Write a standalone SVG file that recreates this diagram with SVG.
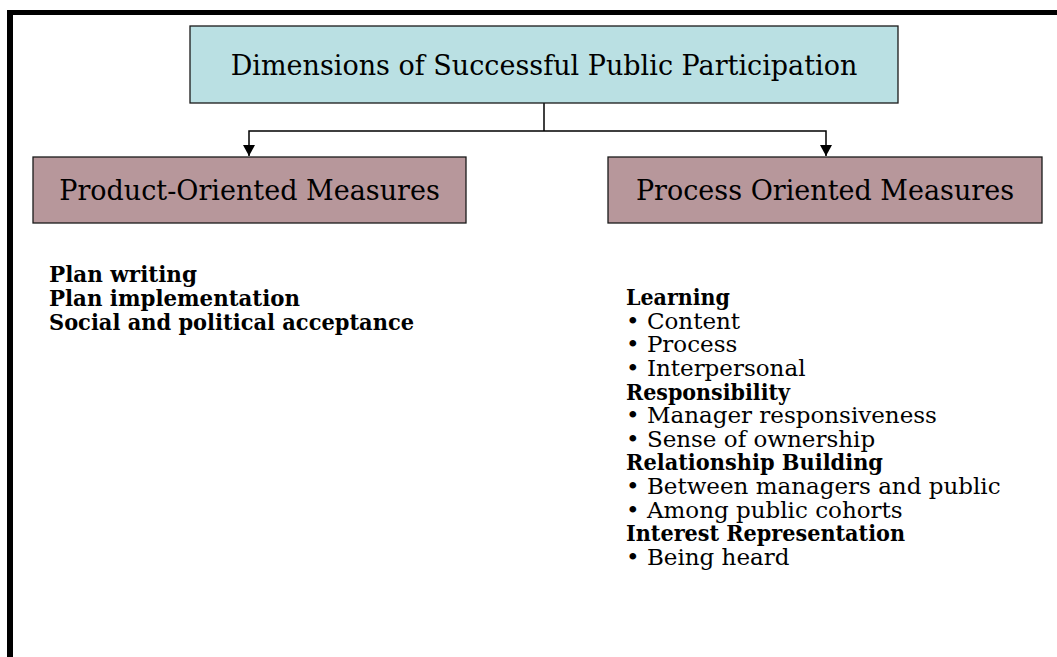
<svg xmlns="http://www.w3.org/2000/svg" width="1057" height="657" viewBox="0 0 1057 657">
<defs>
<style>
.t{font-family:"DejaVu Serif","Liberation Serif",serif;fill:#000}
.h{font-size:27px}
.l{font-size:23px}
.b{font-weight:bold}
.box{stroke:#1a1a1a;stroke-width:1.3}
.c{stroke:#000;stroke-width:1.5;fill:none}
</style>
<marker id="ah" markerWidth="12" markerHeight="12" refX="11" refY="6" orient="auto" markerUnits="userSpaceOnUse">
<path d="M0,0 L11,6 L0,12 Z" fill="#000"/>
</marker>
</defs>
<rect width="1057" height="657" fill="#fff"/>
<g id="frame">
<rect x="7" y="10" width="1050" height="5" fill="#000"/>
<rect x="7" y="10" width="6" height="647" fill="#000"/>
</g>
<g id="connectors">
<path class="c" d="M544,103 V131"/>
<path class="c" d="M544,131 H249 V156" marker-end="url(#ah)"/>
<path class="c" d="M544,131 H826 V156" marker-end="url(#ah)"/>
</g>
<g id="top">
<rect class="box" x="190" y="26" width="708" height="77" fill="#bae0e3"/>
<text class="t h" x="544" y="75" text-anchor="middle">Dimensions of Successful Public Participation</text>
</g>
<g id="product">
<rect class="box" x="33" y="157" width="433" height="66" fill="#b7979b"/>
<text class="t h" x="249.5" y="200" text-anchor="middle">Product-Oriented Measures</text>
</g>
<g id="process">
<rect class="box" x="608" y="157" width="434" height="66" fill="#b7979b"/>
<text class="t h" x="825" y="200" text-anchor="middle">Process Oriented Measures</text>
</g>
<g id="product-list">
<text class="t l b" x="49" y="282" textLength="148" lengthAdjust="spacingAndGlyphs">Plan writing</text>
<text class="t l b" x="49" y="306" textLength="251" lengthAdjust="spacingAndGlyphs">Plan implementation</text>
<text class="t l b" x="49" y="330" textLength="365" lengthAdjust="spacingAndGlyphs">Social and political acceptance</text>
</g>
<g id="process-list">
<text class="t l b" x="626" y="305" textLength="104" lengthAdjust="spacingAndGlyphs">Learning</text>
<text class="t l" x="626" y="329">• Content</text>
<text class="t l" x="626" y="352">• Process</text>
<text class="t l" x="626" y="376">• Interpersonal</text>
<text class="t l b" x="626" y="400" textLength="164" lengthAdjust="spacingAndGlyphs">Responsibility</text>
<text class="t l" x="626" y="423">• Manager responsiveness</text>
<text class="t l" x="626" y="447">• Sense of ownership</text>
<text class="t l b" x="626" y="470" textLength="257" lengthAdjust="spacingAndGlyphs">Relationship Building</text>
<text class="t l" x="626" y="494">• Between managers and public</text>
<text class="t l" x="626" y="518">• Among public cohorts</text>
<text class="t l b" x="626" y="541" textLength="279" lengthAdjust="spacingAndGlyphs">Interest Representation</text>
<text class="t l" x="626" y="565">• Being heard</text>
</g>
</svg>
